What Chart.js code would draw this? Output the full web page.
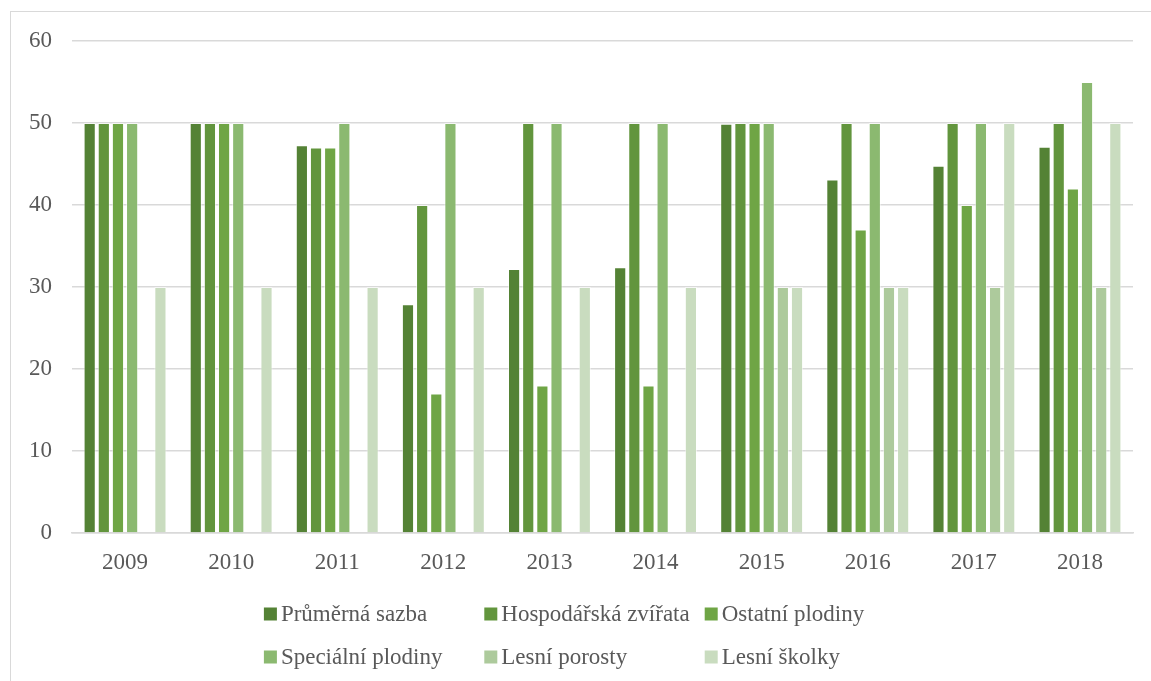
<!DOCTYPE html>
<html>
<head>
<meta charset="utf-8">
<script src="https://cdn.jsdelivr.net/npm/chart.js@4"></script>
<style>
  html, body { margin: 0; padding: 0; overflow: hidden; background: #fff; }
  #ramecek { position: absolute; left: 10px; top: 11px; width: 1200px; height: 720px; border: 1.5px solid #d9d9d9; pointer-events: none; }
  #obal { position: absolute; left: 0; top: 0; width: 1151px; height: 681px; }
</style>
</head>
<body>
<div id="obal"><canvas id="graf" width="1151" height="681"></canvas></div>
<div id="ramecek"></div>
<script>
// Data
const roky = ['2009', '2010', '2011', '2012', '2013', '2014', '2015', '2016', '2017', '2018'];
const prumernaSazba = [50, 50, 47.3, 27.9, 32.2, 32.4, 49.9, 43.1, 44.8, 47.1];
const hospodarskaZvirata = [50, 50, 47, 40, 50, 50, 50, 50, 50, 50];
const ostatniPlodiny = [50, 50, 47, 17, 18, 18, 50, 37, 40, 42];
const specialniPlodiny = [50, 50, 50, 50, 50, 50, 50, 50, 50, 55];
const lesniPorosty = [null, null, null, null, null, null, 30, 30, 30, 30];
const lesniSkolky = [30, 30, 30, 30, 30, 30, 30, 30, 50, 50];
const yTicks = [0, 10, 20, 30, 40, 50, 60];

const barvy = ['#548235', '#62953d', '#6fa545', '#8bb970', '#adca9c', '#c9dcbf'];
const font = 'Liberation Serif, Times New Roman, serif';
const seda = '#595959';

// vlastni legenda ve trech sloupcich (jako v Excelu)
const legendaPlugin = {
  id: 'legendaMrizka',
  afterDraw(chart) {
    const ctx = chart.ctx;
    const ds = chart.data.datasets;
    ctx.save();
    ctx.font = '23px ' + font;
    let maxW = 0;
    ds.forEach(d => { maxW = Math.max(maxW, ctx.measureText(d.label).width); });
    const box = 13, gap = 4;
    const colW = box + gap + maxW + 15;
    const ca = chart.chartArea;
    const startX = (ca.left + ca.right) / 2 - (colW * 3) / 2 - 8;
    const rowsY = [614, 657];
    ds.forEach((d, i) => {
      const col = i % 3, row = Math.floor(i / 3);
      const x = startX + col * colW;
      const y = rowsY[row];
      ctx.fillStyle = d.backgroundColor;
      ctx.fillRect(x, y - box / 2, box, box);
      ctx.fillStyle = seda;
      ctx.textBaseline = 'middle';
      ctx.textAlign = 'left';
      ctx.fillText(d.label, x + box + gap, y + 1);
    });
    ctx.restore();
  }
};

const nazvy = ['Průměrná sazba', 'Hospodářská zvířata', 'Ostatní plodiny', 'Speciální plodiny', 'Lesní porosty', 'Lesní školky'];
const hodnoty = [prumernaSazba, hospodarskaZvirata, ostatniPlodiny, specialniPlodiny, lesniPorosty, lesniSkolky];

const ctx = document.getElementById('graf').getContext('2d');
new Chart(ctx, {
  type: 'bar',
  data: {
    labels: roky,
    datasets: nazvy.map((n, i) => ({
      label: n,
      data: hodnoty[i],
      backgroundColor: barvy[i],
      borderColor: 'rgba(255,255,255,0.55)',
      borderWidth: 1,
      barPercentage: 0.86,
      categoryPercentage: 0.8
    }))
  },
  options: {
    responsive: false,
    animation: false,
    layout: { padding: { top: 41, right: 18, left: 0, bottom: 0 } },
    plugins: {
      legend: { display: false },
      tooltip: { enabled: false }
    },
    scales: {
      x: {
        grid: { display: false, drawTicks: false },
        border: { display: true, color: '#d9d9d9', width: 1.5 },
        ticks: { color: seda, font: { family: font, size: 23 }, padding: 16, maxRotation: 0 },
        afterFit(scale) { scale.height = 681 - 533; }
      },
      y: {
        min: 0,
        max: 60,
        afterBuildTicks(scale) { scale.ticks = yTicks.map(v => ({ value: v })); },
        grid: { color: '#d9d9d9', lineWidth: 1.5, drawTicks: false },
        border: { display: false },
        ticks: { color: seda, font: { family: font, size: 23 }, padding: 20 },
        afterFit(scale) { scale.width = 72; }
      }
    }
  },
  plugins: [legendaPlugin]
});
</script>
</body>
</html>
